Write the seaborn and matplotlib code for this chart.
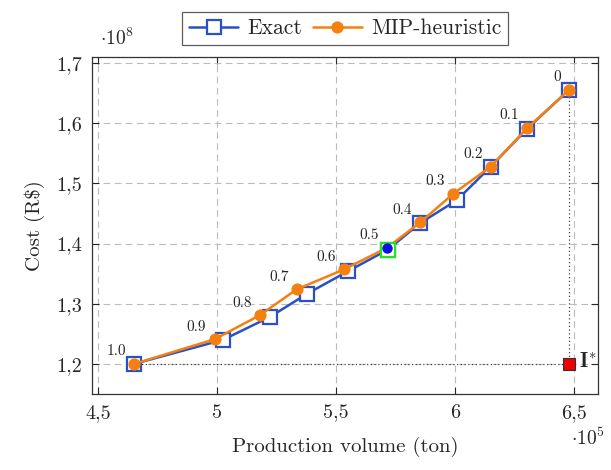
import numpy as np
import pandas as pd
import matplotlib
matplotlib.use("Agg")
import matplotlib.pyplot as plt
from matplotlib.ticker import FuncFormatter
import seaborn as sns

# Dados (volume em 1e5 ton, custo em 1e8 R$)
weights = ["1.0", "0.9", "0.8", "0.7", "0.6", "0.5", "0.4", "0.3", "0.2", "0.1", "0"]
exact_volume = [4.651, 5.025, 5.222, 5.380, 5.550, 5.718, 5.853, 6.007, 6.150, 6.303, 6.480]
exact_cost = [1.200, 1.240, 1.278, 1.317, 1.354, 1.390, 1.434, 1.472, 1.528, 1.591, 1.656]
mip_volume = [4.652, 4.990, 5.180, 5.335, 5.533, 5.714, 5.853, 5.993, 6.150, 6.303, 6.480]
mip_cost = [1.200, 1.241, 1.281, 1.324, 1.357, 1.393, 1.435, 1.483, 1.528, 1.592, 1.656]
ideal_point = (6.480, 1.200)

df = pd.concat([
    pd.DataFrame({"volume": exact_volume, "cost": exact_cost, "method": "Exact"}),
    pd.DataFrame({"volume": mip_volume, "cost": mip_cost, "method": "MIP-heuristic"}),
])

sns.set_style("ticks")
plt.rcParams["font.family"] = "serif"
plt.rcParams["font.serif"] = ["cmr10", "DejaVu Serif"]
plt.rcParams["mathtext.fontset"] = "cm"
plt.rcParams["axes.formatter.use_mathtext"] = True

blue = "#2a50c4"
orange = "#f5800f"

fig = plt.figure(figsize=(6.11, 4.70), dpi=100)
ax = fig.add_axes([0.1506, 0.1617, 0.8281, 0.717])

# linhas pontilhadas até o ponto ideal
ax.plot([exact_volume[0], ideal_point[0]], [ideal_point[1], ideal_point[1]],
        ls=(0, (1, 2)), color="#444444", lw=0.9, zorder=2)
ax.plot([ideal_point[0], ideal_point[0]], [ideal_point[1], exact_cost[-1]],
        ls=(0, (1, 2)), color="#444444", lw=0.9, zorder=2)

sns.lineplot(data=df[df.method == "Exact"], x="volume", y="cost", sort=False,
             ax=ax, color=blue, lw=1.8, marker="s", markersize=9.5,
             markerfacecolor="white", markeredgecolor=blue, markeredgewidth=1.6,
             label="Exact", zorder=3)
sns.lineplot(data=df[df.method == "MIP-heuristic"], x="volume", y="cost", sort=False,
             ax=ax, color=orange, lw=1.8, marker="o", markersize=8,
             markerfacecolor=orange, markeredgecolor=orange,
             label="MIP-heuristic", zorder=4)

# ponto 0.5 destacado
ax.plot(exact_volume[5], exact_cost[5], marker="s", markersize=9.5,
        markerfacecolor="white", markeredgecolor="#22e622", markeredgewidth=1.6, zorder=5)
ax.plot(mip_volume[5], mip_cost[5], marker="o", markersize=6.5,
        color="#1010e0", zorder=6)

# ponto ideal
ax.plot(*ideal_point, marker="s", markersize=8, markerfacecolor="#ee0000",
        markeredgecolor="#333333", markeredgewidth=0.8, zorder=5)
ax.annotate(r"$\mathbf{I}^{*}$", ideal_point, xytext=(7, 2), textcoords="offset points",
            fontsize=15, ha="left", va="center")

for w, xv, yv in zip(weights, mip_volume, mip_cost):
    ax.annotate(w, (xv, yv), xytext=(-6, 4), textcoords="offset points",
                fontsize=11, ha="right", va="bottom")

ax.set_xlim(4.475, 6.60)
ax.set_ylim(1.15, 1.71)
ax.set_xticks([4.5, 5, 5.5, 6, 6.5])
ax.set_yticks([1.2, 1.3, 1.4, 1.5, 1.6, 1.7])

def comma(v, pos):
    s = f"{v:g}"
    return s.replace(".", ",")

ax.xaxis.set_major_formatter(FuncFormatter(comma))
ax.yaxis.set_major_formatter(FuncFormatter(comma))
ax.tick_params(direction="in", top=True, right=True, labelsize=14.5, length=5, pad=7)
ax.grid(True, ls=(0, (6, 4)), color="#bbbbbb", lw=0.8)
ax.set_axisbelow(True)
for sp in ax.spines.values():
    sp.set_color("#333333")
    sp.set_linewidth(0.9)

ax.set_xlabel("Production volume (ton)", fontsize=15, labelpad=11)
ax.set_ylabel("Cost (R$)", fontsize=15, labelpad=8)
fig.text(0.163, 0.918, r"$\cdot 10^{8}$", fontsize=14, ha="left", va="center")
fig.text(0.935, 0.068, r"$\cdot 10^{5}$", fontsize=14, ha="left", va="center")

leg = ax.legend(loc="lower center", bbox_to_anchor=(0.5, 1.005), ncol=2, fontsize=15.5,
                frameon=True, fancybox=False, edgecolor="#333333", handlelength=2.3,
                columnspacing=0.5, handletextpad=0.4, borderpad=0.3)
leg.get_frame().set_linewidth(0.9)

fig.savefig("out.png", dpi=100)
